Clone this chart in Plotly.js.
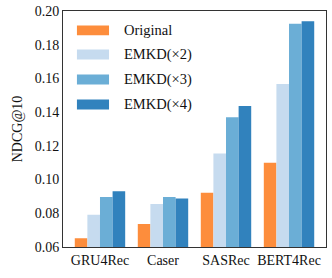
<!DOCTYPE html>
<html><head><meta charset="utf-8">
<script src="https://cdn.plot.ly/plotly-3.0.1.min.js"></script>
<style>html,body{margin:0;padding:0;background:#fff}#c{width:332px;height:278px}</style>
</head><body><div id="c"></div>
<script>
const categories = ["GRU4Rec", "Caser", "SASRec", "BERT4Rec"];
const seriesNames = ["Original", "EMKD(×2)", "EMKD(×3)", "EMKD(×4)"];
const original = [0.0652, 0.0737, 0.0922, 0.1100];
const emkd2 = [0.0791, 0.0855, 0.1155, 0.1567];
const emkd3 = [0.0897, 0.0897, 0.1370, 0.1925];
const emkd4 = [0.0930, 0.0888, 0.1436, 0.1939];
const yTicks = [0.06, 0.08, 0.10, 0.12, 0.14, 0.16, 0.18, 0.20];
const colors = ["#fd8d3c", "#c6dbef", "#6baed6", "#3182bd"];
const values = [original, emkd2, emkd3, emkd4];

const font = "Liberation Serif, Times New Roman, serif";
const traces = values.map((v, i) => ({
  type: "bar", x: categories, y: v, name: seriesNames[i],
  marker: {color: colors[i], line: {width: 0}}, showlegend: false
}));

const shapes = [], annotations = [];
const legY = [0.918, 0.816, 0.71, 0.604];
seriesNames.forEach((n, i) => {
  shapes.push({type: "rect", xref: "paper", yref: "paper",
    x0: 0.053, x1: 0.175, y0: legY[i] - 0.021, y1: legY[i] + 0.021,
    fillcolor: colors[i], line: {width: 0}});
  annotations.push({xref: "paper", yref: "paper", x: 0.224, y: legY[i],
    xanchor: "left", yanchor: "middle", text: n, showarrow: false,
    font: {family: font, size: 14.5, color: "#111"}});
});

Plotly.newPlot("c", traces, {
  width: 332, height: 278,
  margin: {l: 63, r: 6, t: 11, b: 31},
  paper_bgcolor: "#fff", plot_bgcolor: "#fff",
  barmode: "group", bargap: 0.2, bargroupgap: 0,
  font: {family: font, size: 14, color: "#111"},
  xaxis: {range: [-0.587, 3.587], showline: true, mirror: true, linecolor: "#333",
    linewidth: 1, ticks: "", showgrid: false, tickfont: {size: 14}},
  yaxis: {range: [0.06, 0.20], tickvals: yTicks, ticktext: yTicks.map(t => t.toFixed(2)),
    showline: true, mirror: true, linecolor: "#333", linewidth: 1, ticks: "",
    showgrid: false, zeroline: false, tickfont: {size: 14},
    title: {text: "NDCG@10", font: {size: 14}, standoff: 8}},
  shapes, annotations
}, {displayModeBar: false, staticPlot: true});
</script></body></html>
